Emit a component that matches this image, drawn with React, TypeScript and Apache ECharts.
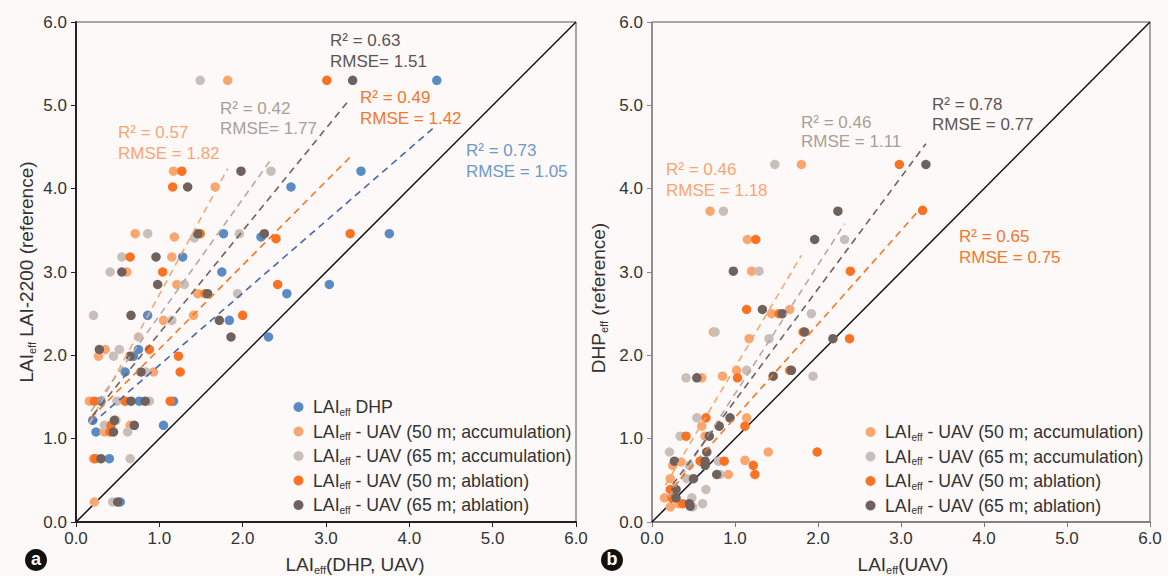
import React, { useEffect, useRef } from 'react';
import * as echarts from 'echarts';

const FONT = '"Liberation Sans", Arial, Helvetica, sans-serif';
const BG = '#fdf9f8';

const C_DHP = '#5b8bc4';
const C_ACC50 = '#fca66f';
const C_ACC65 = '#c9bfb8';
const C_ABL50 = '#f97325';
const C_ABL65 = '#6f625d';

const N_DHP = 'DHP';
const N_ACC50 = 'UAV 50 m accumulation';
const N_ACC65 = 'UAV 65 m accumulation';
const N_ABL50 = 'UAV 50 m ablation';
const N_ABL65 = 'UAV 65 m ablation';

const legendSuffix: Record<string, string> = {
  [N_DHP]: ' DHP',
  [N_ACC50]: ' - UAV (50 m; accumulation)',
  [N_ACC65]: ' - UAV (65 m; accumulation)',
  [N_ABL50]: ' - UAV (50 m; ablation)',
  [N_ABL65]: ' - UAV (65 m; ablation)',
};

const tickLabels = ['0.0', '1.0', '2.0', '3.0', '4.0', '5.0', '6.0'];

// ---- Panel a: LAIeff (DHP, UAV) vs LAI-2200 reference ----
const leftDHP = [
  [4.33, 5.30], [3.42, 4.21], [2.58, 4.02], [1.77, 3.46], [2.22, 3.42], [3.76, 3.46],
  [1.28, 3.18], [1.75, 3.0], [3.04, 2.85], [2.53, 2.74], [0.86, 2.48], [1.84, 2.42],
  [2.31, 2.22], [0.75, 2.07], [0.69, 1.99], [0.59, 1.80], [0.30, 1.45], [0.76, 1.45],
  [1.17, 1.45], [0.20, 1.22], [1.05, 1.16], [0.24, 1.08], [0.40, 0.76], [0.53, 0.24],
];
const leftAcc50 = [
  [1.82, 5.30], [1.17, 4.21], [1.67, 4.02], [0.71, 3.46], [1.18, 3.42], [1.15, 3.18],
  [0.61, 3.0], [1.21, 2.85], [1.46, 2.74], [1.05, 2.42], [1.41, 2.48], [0.35, 2.07],
  [0.27, 1.99], [0.93, 1.80], [0.16, 1.45], [0.65, 1.16], [0.34, 1.08], [0.21, 0.76],
  [0.22, 0.24],
];
const leftAcc65 = [
  [1.49, 5.30], [2.34, 4.21], [0.86, 3.46], [1.42, 3.41], [1.96, 3.46], [0.55, 3.18],
  [0.41, 3.0], [1.30, 2.85], [1.94, 2.74], [0.21, 2.48], [1.15, 2.42], [0.75, 2.22],
  [0.52, 2.07], [0.45, 1.99], [0.84, 1.80], [0.49, 1.45], [0.88, 1.45], [0.48, 1.22],
  [0.34, 1.16], [0.62, 1.08], [0.65, 0.76], [0.44, 0.24],
];
const leftAbl50 = [
  [3.01, 5.30], [1.27, 4.21], [1.16, 4.02], [1.49, 3.46], [2.40, 3.40], [3.29, 3.46],
  [0.65, 3.18], [1.04, 3.0], [1.55, 2.74], [2.0, 2.48], [2.42, 2.85], [0.88, 2.07],
  [1.23, 1.99], [1.25, 1.80], [0.22, 1.45], [0.59, 1.45], [1.13, 1.45], [0.42, 1.16],
  [0.41, 1.08], [0.23, 0.76],
];
const leftAbl65 = [
  [3.32, 5.30], [1.98, 4.21], [1.34, 4.02], [1.46, 3.46], [2.26, 3.46], [0.96, 3.18],
  [0.55, 3.0], [0.98, 2.85], [1.58, 2.74], [0.66, 2.48], [1.72, 2.42], [1.86, 2.22],
  [0.28, 2.07], [0.65, 1.99], [0.78, 1.80], [0.66, 1.45], [0.83, 1.45], [0.46, 1.22],
  [0.70, 1.16], [0.45, 1.08], [0.30, 0.76], [0.50, 0.24],
];
const leftFitDHP = [[0.19, 1.18], [4.28, 4.72]];
const leftFitAcc50 = [[0.16, 1.18], [1.82, 4.24]];
const leftFitAcc65 = [[0.18, 1.33], [2.34, 4.35]];
const leftFitAbl50 = [[0.18, 1.25], [3.29, 4.38]];
const leftFitAbl65 = [[0.2, 1.28], [3.29, 5.08]];

// ---- Panel b: LAIeff (UAV) vs DHPeff reference ----
const rightAcc50 = [
  [1.80, 4.29], [0.70, 3.73], [1.15, 3.39], [1.20, 3.01], [1.66, 2.55], [1.44, 2.50],
  [0.74, 2.28], [1.17, 2.20], [1.02, 1.82], [0.60, 1.73], [0.85, 1.75], [1.14, 1.25],
  [0.60, 1.15], [0.64, 1.03], [1.40, 0.84], [0.35, 0.72], [1.12, 0.74], [0.25, 0.68],
  [0.92, 0.57], [0.22, 0.52], [0.15, 0.29], [0.32, 0.22], [0.22, 0.18],
];
const rightAcc65 = [
  [1.48, 4.29], [0.86, 3.73], [2.32, 3.39], [1.29, 3.01], [1.92, 2.50], [0.76, 2.28],
  [1.41, 2.20], [1.14, 1.82], [0.41, 1.73], [1.94, 1.75], [0.54, 1.25], [0.34, 1.03],
  [0.21, 0.84], [0.80, 0.73], [0.45, 0.68], [0.82, 0.57], [0.42, 0.52], [0.65, 0.39],
  [0.48, 0.29], [0.49, 0.18], [0.61, 0.22],
];
const rightAbl50 = [
  [2.98, 4.29], [3.26, 3.74], [1.25, 3.39], [2.39, 3.01], [1.14, 2.55], [1.53, 2.50],
  [1.82, 2.28], [2.38, 2.20], [1.03, 1.73], [1.66, 1.82], [0.65, 1.25], [1.12, 1.15],
  [0.41, 1.03], [1.99, 0.84], [0.58, 0.73], [0.87, 0.73], [1.22, 0.68], [1.24, 0.57],
  [0.22, 0.39], [0.24, 0.29], [0.37, 0.22],
];
const rightAbl65 = [
  [3.30, 4.29], [2.24, 3.73], [1.96, 3.39], [0.98, 3.01], [1.33, 2.55], [1.57, 2.50],
  [1.84, 2.28], [2.18, 2.20], [1.68, 1.82], [0.54, 1.73], [1.46, 1.75], [0.94, 1.25],
  [0.81, 1.15], [0.69, 1.03], [0.66, 0.84], [0.27, 0.73], [0.64, 0.73], [0.64, 0.68],
  [0.78, 0.57], [0.50, 0.52], [0.29, 0.39], [0.29, 0.29], [0.45, 0.22], [0.46, 0.19],
];
const rightFitAcc50 = [[0.16, 0.44], [1.80, 3.20]];
const rightFitAcc65 = [[0.2, 0.3], [2.32, 3.58]];
const rightFitAbl50 = [[0.25, 0.41], [3.26, 3.79]];
const rightFitAbl65 = [[0.25, 0.45], [3.30, 4.54]];

const identityLine = [[0, 0], [6, 6]];

// annotations: [text line 1, text line 2, color, x, y1, y2]
const leftStats = [
  ['R² = 0.63', 'RMSE= 1.51', '#5e5450', 330, 40, 61],
  ['R² = 0.42', 'RMSE= 1.77', '#a99f99', 220, 108, 128],
  ['R² = 0.57', 'RMSE = 1.82', '#fca570', 118, 132, 153],
  ['R² = 0.49', 'RMSE = 1.42', '#f7752c', 360, 97, 118],
  ['R² = 0.73', 'RMSE = 1.05', '#6f98c8', 466, 150, 171],
];
const rightStats = [
  ['R² = 0.46', 'RMSE = 1.11', '#a99f99', 801, 122, 141],
  ['R² = 0.46', 'RMSE = 1.18', '#fca570', 666, 169, 190],
  ['R² = 0.78', 'RMSE = 0.77', '#5e5450', 932, 104, 124],
  ['R² = 0.65', 'RMSE = 0.75', '#f7752c', 959, 236, 257],
];

const axisCfg = (gridIndex: number, color: string, width: number, isY: boolean) => ({
  type: 'value',
  gridIndex,
  min: 0,
  max: 6,
  interval: 1,
  axisLine: { show: true, onZero: false, lineStyle: { color, width } },
  axisTick: { show: true, inside: false, length: 5, lineStyle: { color, width: 1 } },
  axisLabel: {
    formatter: (v: number) => tickLabels[Math.round(v)],
    fontSize: 17,
    color: '#333',
    fontFamily: FONT,
    margin: isY ? 9 : 8,
  },
  splitLine: { show: false },
});

const scatter = (name: string, data: number[][], color: string, xi: number) => ({
  type: 'scatter',
  name,
  xAxisIndex: xi,
  yAxisIndex: xi,
  data,
  symbol: 'circle',
  symbolSize: 9.5,
  itemStyle: { color, opacity: 1 },
  z: 2,
});

const fit = (data: number[][], color: string, xi: number) => ({
  type: 'line',
  xAxisIndex: xi,
  yAxisIndex: xi,
  data,
  showSymbol: false,
  symbol: 'none',
  lineStyle: { color, width: 1.6, type: [7, 5] },
  z: 3,
  silent: true,
});

const richSub = {
  m: { fontSize: 17.7, lineHeight: 20, color: '#333', fontFamily: FONT },
  s: { fontSize: 10, lineHeight: 9, verticalAlign: 'bottom', color: '#333', fontFamily: FONT },
};

const legendCfg = (data: string[], left: number, top: number) => ({
  orient: 'vertical',
  left,
  top,
  data,
  icon: 'circle',
  itemWidth: 19,
  itemHeight: 10,
  itemGap: 5.5,
  selectedMode: false,
  formatter: (name: string) => `{m|LAI}{s|eff}{m|${legendSuffix[name]}}`,
  textStyle: { fontSize: 17.7, color: '#333', fontFamily: FONT, rich: richSub },
});

const titleRich = {
  m: { fontSize: 19, lineHeight: 22, fill: '#333', fontFamily: FONT },
  s: { fontSize: 11, lineHeight: 10, verticalAlign: 'bottom', fill: '#333', fontFamily: FONT },
};

const statTexts = (list: any[]) =>
  list.flatMap(([a, b, color, x, y1, y2]) => [
    { type: 'text', x, y: y1, style: { text: a, fill: color, font: `17px ${FONT}`, align: 'left', verticalAlign: 'middle' } },
    { type: 'text', x, y: y2, style: { text: b, fill: color, font: `17px ${FONT}`, align: 'left', verticalAlign: 'middle' } },
  ]);

const panelLabel = (x: number, y: number, t: string) => [
  { type: 'circle', shape: { cx: x, cy: y, r: 11 }, style: { fill: '#111' } },
  { type: 'text', x, y: y - 1, style: { text: t, fill: '#fff', font: `bold 18px ${FONT}`, align: 'center', verticalAlign: 'middle' } },
];

const option: any = {
  animation: false,
  backgroundColor: BG,
  grid: [
    { left: 76, top: 22, width: 500, height: 500, show: true, borderColor: '#555', borderWidth: 1, backgroundColor: 'transparent' },
    { left: 652, top: 22, width: 498, height: 500, show: true, borderColor: '#555', borderWidth: 1, backgroundColor: 'transparent' },
  ],
  xAxis: [axisCfg(0, '#222', 2, false), axisCfg(1, '#777', 1.5, false)],
  yAxis: [axisCfg(0, '#222', 2, true), axisCfg(1, '#888', 1.5, true)],
  legend: [
    legendCfg([N_DHP, N_ACC50, N_ACC65, N_ABL50, N_ABL65], 288.5, 393),
    legendCfg([N_ACC50, N_ACC65, N_ABL50, N_ABL65], 860.5, 418),
  ],
  series: [
    { type: 'line', xAxisIndex: 0, yAxisIndex: 0, data: identityLine, showSymbol: false, symbol: 'none', lineStyle: { color: '#111', width: 1.5 }, z: 1, silent: true },
    { type: 'line', xAxisIndex: 1, yAxisIndex: 1, data: identityLine, showSymbol: false, symbol: 'none', lineStyle: { color: '#111', width: 1.5 }, z: 1, silent: true },
    scatter(N_DHP, leftDHP, C_DHP, 0),
    scatter(N_ACC50, leftAcc50, C_ACC50, 0),
    scatter(N_ACC65, leftAcc65, C_ACC65, 0),
    scatter(N_ABL50, leftAbl50, C_ABL50, 0),
    scatter(N_ABL65, leftAbl65, C_ABL65, 0),
    scatter(N_ACC50, rightAcc50, C_ACC50, 1),
    scatter(N_ACC65, rightAcc65, C_ACC65, 1),
    scatter(N_ABL50, rightAbl50, C_ABL50, 1),
    scatter(N_ABL65, rightAbl65, C_ABL65, 1),
    fit(leftFitDHP, '#4a66ab', 0),
    fit(leftFitAcc50, C_ACC50, 0),
    fit(leftFitAcc65, '#b5aaa3', 0),
    fit(leftFitAbl50, C_ABL50, 0),
    fit(leftFitAbl65, C_ABL65, 0),
    fit(rightFitAcc50, C_ACC50, 1),
    fit(rightFitAcc65, '#b5aaa3', 1),
    fit(rightFitAbl50, C_ABL50, 1),
    fit(rightFitAbl65, C_ABL65, 1),
  ],
  graphic: [
    ...statTexts(leftStats),
    ...statTexts(rightStats),
    ...panelLabel(36, 560, 'a'),
    ...panelLabel(612, 560, 'b'),
    { type: 'text', x: 355, y: 564, style: { text: '{m|LAI}{s|eff}{m|(DHP, UAV)}', rich: titleRich, align: 'center', verticalAlign: 'middle' } },
    { type: 'text', x: 903, y: 564, style: { text: '{m|LAI}{s|eff}{m|(UAV)}', rich: titleRich, align: 'center', verticalAlign: 'middle' } },
    { type: 'text', x: 26, y: 272, rotation: Math.PI / 2, style: { text: '{m|LAI}{s|eff}{m| LAI-2200 (reference)}', rich: titleRich, align: 'center', verticalAlign: 'middle' } },
    { type: 'text', x: 598, y: 298, rotation: Math.PI / 2, style: { text: '{m|DHP}{s|eff}{m| (reference)}', rich: titleRich, align: 'center', verticalAlign: 'middle' } },
  ],
};

export default function App() {
  const ref = useRef<HTMLDivElement>(null);
  useEffect(() => {
    const chart = echarts.init(ref.current!, null, { renderer: 'svg' });
    chart.setOption(option);
    return () => chart.dispose();
  }, []);
  return <div ref={ref} style={{ position: 'fixed', left: 0, top: 0, width: 1168, height: 576 }} />;
}
